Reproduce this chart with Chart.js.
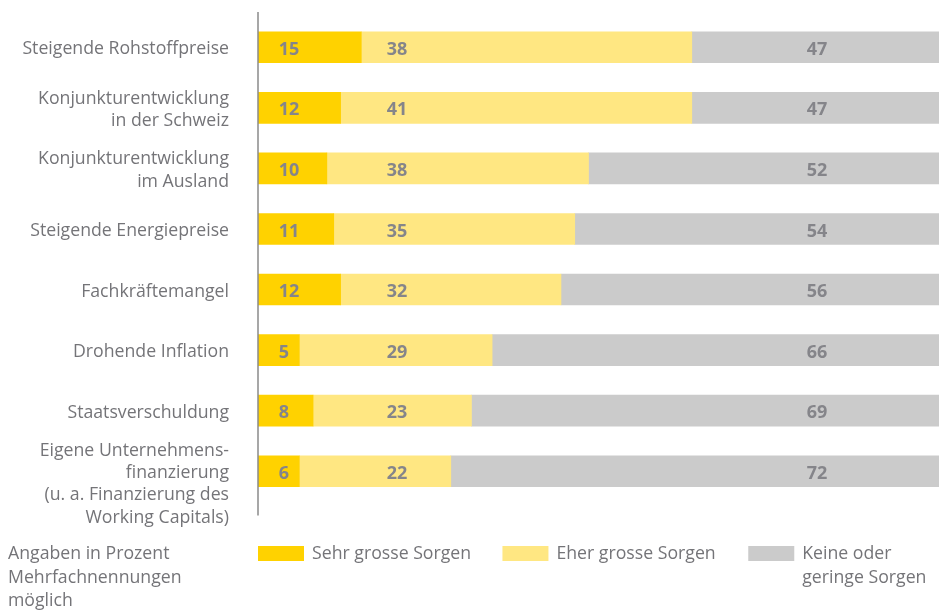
<!DOCTYPE html>
<html><head><meta charset="utf-8">
<script src="https://cdn.jsdelivr.net/npm/chart.js@4"></script>
<style>html,body{margin:0;padding:0;background:#fff}#wrap{width:939px;height:616px;position:relative}</style>
</head><body><div id="wrap"><canvas id="c" width="939" height="616"></canvas></div>
<script>
const categories = [
  ["Steigende Rohstoffpreise"],
  ["Konjunkturentwicklung","in der Schweiz"],
  ["Konjunkturentwicklung","im Ausland"],
  ["Steigende Energiepreise"],
  ["Fachkräftemangel"],
  ["Drohende Inflation"],
  ["Staatsverschuldung"],
  ["","Eigene Unternehmens-","finanzierung","(u. a. Finanzierung des","Working Capitals)"]
];
const seriesNames = ["Sehr grosse Sorgen", "Eher grosse Sorgen", "Keine oder geringe Sorgen"];
const legendLines = [["Sehr grosse Sorgen"], ["Eher grosse Sorgen"], ["Keine oder","geringe Sorgen"]];
// bar lengths as drawn in the picture
const sehrGross = [15, 12, 10, 11, 12, 6, 8, 6];
const eherGross = [48, 51, 38, 35, 32, 28, 23, 22];
const keine = [37, 37, 52, 54, 56, 66, 69, 72];
// numbers printed on the bars
const sehrGrossLabels = [15, 12, 10, 11, 12, 5, 8, 6];
const eherGrossLabels = [38, 41, 38, 35, 32, 29, 23, 22];
const keineLabels = [47, 47, 52, 54, 56, 66, 69, 72];
const footnote = ["Angaben in Prozent", "Mehrfachnennungen", "möglich"];

const colors = ["#FFD200", "#FFE782", "#CBCBCB"];
const textGray = "#747478";
const valueGray = "#85858a";
const FONT = "'Open Sans', sans-serif";
const FS = 17.7;
const labelValuePos = [3.0, 18.7, 79.7];
const printed = [sehrGrossLabels, eherGrossLabels, keineLabels];

const valuePlugin = {
  id: 'values',
  afterDatasetsDraw(chart) {
    const ctx = chart.ctx, xs = chart.scales.x;
    ctx.save();
    ctx.font = "bold 18px " + FONT;
    ctx.fillStyle = valueGray;
    ctx.textAlign = "left";
    ctx.textBaseline = "middle";
    chart.data.datasets.forEach((ds, i) => {
      const meta = chart.getDatasetMeta(i);
      meta.data.forEach((bar, j) => {
        ctx.fillText(String(printed[i][j]), xs.getPixelForValue(labelValuePos[i]), bar.y + 2.5);
      });
    });
    ctx.restore();
  }
};

const decoPlugin = {
  id: 'deco',
  afterDraw(chart) {
    const ctx = chart.ctx, xs = chart.scales.x, ca = chart.chartArea;
    ctx.save();
    ctx.strokeStyle = "#8a8a8a";
    ctx.lineWidth = 1.5;
    ctx.beginPath();
    ctx.moveTo(ca.left, ca.top - 5);
    ctx.lineTo(ca.left, ca.bottom + 14);
    ctx.stroke();
    const legX = [xs.getPixelForValue(0), xs.getPixelForValue(35.5), xs.getPixelForValue(71.2)];
    ctx.font = FS + "px " + FONT;
    ctx.textBaseline = "middle";
    ctx.textAlign = "left";
    chart.data.datasets.forEach((ds, i) => {
      ctx.fillStyle = ds.backgroundColor;
      ctx.fillRect(legX[i], 546, 46, 15);
      ctx.fillStyle = textGray;
      legendLines[i].forEach((t, k) => ctx.fillText(t, legX[i] + 54, 554 + k * 23.5));
    });
    footnote.forEach((t, k) => ctx.fillText(t, 8, 554 + k * 23.5));
    ctx.restore();
  }
};

new Chart(document.getElementById('c'), {
  type: 'bar',
  data: {
    labels: categories,
    datasets: [
      { label: seriesNames[0], data: sehrGross, backgroundColor: colors[0] },
      { label: seriesNames[1], data: eherGross, backgroundColor: colors[1] },
      { label: seriesNames[2], data: keine, backgroundColor: colors[2] }
    ]
  },
  options: {
    indexAxis: 'y',
    responsive: false,
    animation: false,
    layout: { padding: { top: 17, bottom: 114.5, left: 0, right: 0 } },
    datasets: { bar: { barThickness: 31, borderWidth: 0 } },
    plugins: { legend: { display: false }, tooltip: { enabled: false } },
    scales: {
      x: { stacked: true, min: 0, max: 98.9, display: false },
      y: {
        stacked: true,
        afterFit(s) { s.width = 258; s.paddingTop = 0; s.paddingBottom = 0; },
        grid: { display: false, drawTicks: false },
        border: { display: false },
        ticks: { autoSkip: false, color: textGray, padding: 29, labelOffset: 2, font: { family: FONT, size: FS, lineHeight: 1.25 } }
      }
    }
  },
  plugins: [valuePlugin, decoPlugin]
});
</script></body></html>
